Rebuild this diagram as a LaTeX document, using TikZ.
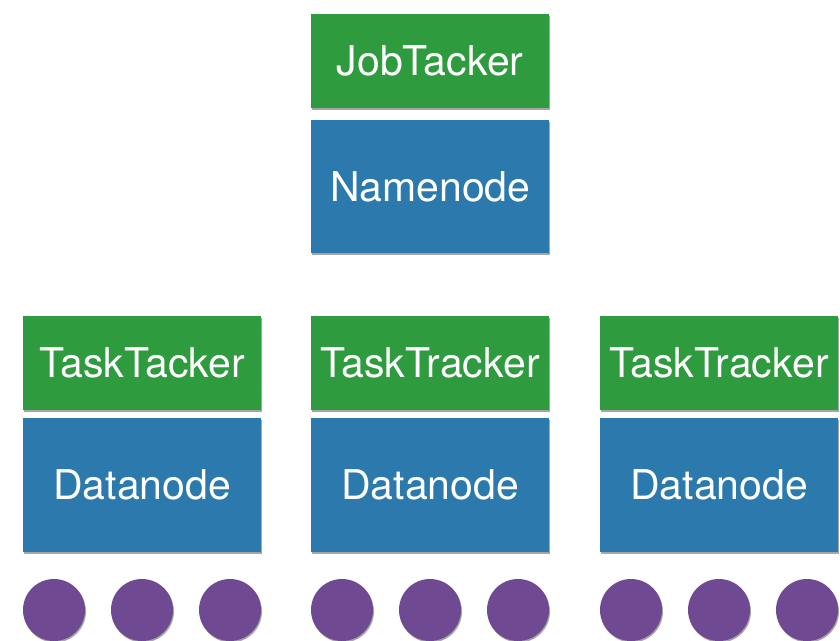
\documentclass[tikz,border=0pt]{standalone}
\usepackage{fontspec}
\setmainfont{TeX Gyre Heros}
\usetikzlibrary{shadows}
\definecolor{trackgreen}{HTML}{2F9B3F}
\definecolor{nodeblue}{HTML}{2B79AD}
\definecolor{slotpurple}{HTML}{6F4A93}
\tikzset{
  softshadow/.style={drop shadow={shadow xshift=1pt, shadow yshift=-1.5pt, opacity=0.35, fill=black}},
  box/.style={anchor=north west, inner sep=0pt, text=white,
    font=\fontsize{41}{41}\selectfont, minimum width=238pt, softshadow},
  tracker/.style={box, fill=trackgreen, minimum height=94pt},
  store/.style={box, fill=nodeblue, minimum height=134pt},
  slot/.style={circle, fill=slotpurple, minimum size=62pt, inner sep=0pt, softshadow}
}
\begin{document}
\begin{tikzpicture}[x=1pt, y=-1pt]
  \useasboundingbox (0,0) rectangle (840,640);
  % master
  \node[tracker] (jt) at (311,14) {JobTacker};
  \node[store, minimum height=133pt] (nn) at (311,120) {Namenode};
  % workers
  \node[tracker] (tt1) at (23,316)  {TaskTacker};
  \node[tracker] (tt2) at (311,316) {TaskTracker};
  \node[tracker] (tt3) at (600,316) {TaskTracker};
  \node[store] (dn1) at (23,418)  {Datanode};
  \node[store] (dn2) at (311,418) {Datanode};
  \node[store] (dn3) at (600,418) {Datanode};
  % task slots
  \foreach \c/\x in {1/23, 2/311, 3/600}{
    \node[slot] (s\c a) at (\x+31,610) {};
    \node[slot] (s\c b) at (\x+119,610) {};
    \node[slot] (s\c c) at (\x+207,610) {};
  }
\end{tikzpicture}
\end{document}
